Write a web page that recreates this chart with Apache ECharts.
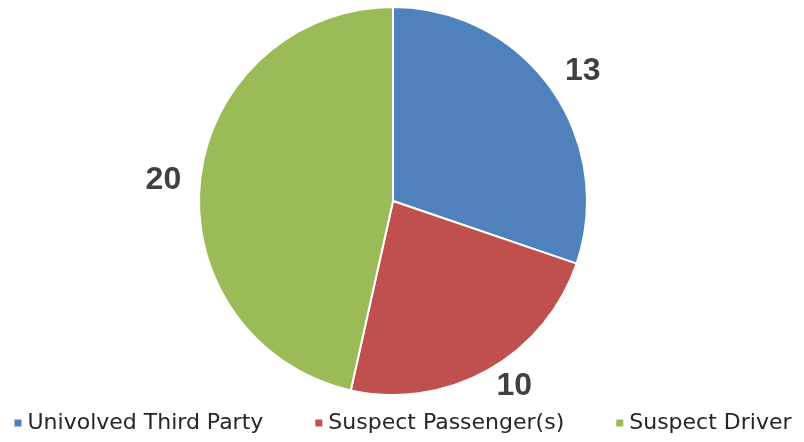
<!DOCTYPE html>
<html><head><meta charset="utf-8">
<script src="https://cdn.jsdelivr.net/npm/echarts@6/dist/echarts.min.js"></script>
<style>html,body{margin:0;padding:0;background:#fff}#c{width:804px;height:442px}</style>
</head><body><div id="c"></div>
<script>
const categories = ['Univolved Third Party', 'Suspect Passenger(s)', 'Suspect Driver'];
const values = [13, 10, 20];
const colors = ['#4F81BD', '#C0504D', '#9BBB59'];

const chart = echarts.init(document.getElementById('c'));
const data = categories.map((n, i) => ({ name: n, value: values[i] }));
const plotBottom = 402; // labels are kept inside the plot area, above the legend
chart.setOption({
  animation: false,
  color: colors,
  legend: {
    bottom: 3,
    left: 'center',
    icon: 'rect',
    itemWidth: 9,
    itemHeight: 9,
    itemGap: 50,
    textStyle: { fontFamily: '"DejaVu Sans", sans-serif', fontSize: 22, color: '#262626' },
    data: categories
  },
  series: [
    {
      type: 'pie',
      center: [393, 201],
      radius: [0, 194],
      startAngle: 90,
      clockwise: true,
      data: data,
      itemStyle: { borderColor: '#fff', borderWidth: 2 },
      label: { show: false },
      labelLine: { show: false }
    },
    {
      type: 'pie',
      silent: true,
      center: [393, 201],
      radius: [194, 264],
      startAngle: 90,
      clockwise: true,
      data: data,
      itemStyle: { color: 'rgba(0,0,0,0)' },
      label: {
        show: true,
        position: 'inside',
        formatter: '{c}',
        offset: [1, 5],
        fontFamily: '"Liberation Sans", Arial, sans-serif',
        fontWeight: 'bold',
        fontSize: 32,
        color: '#404040'
      },
      labelLayout: function (p) {
        const over = p.labelRect.y + p.labelRect.height - plotBottom;
        return over > 0 ? { dy: -over, dx: over * 0.3 } : {};
      },
      labelLine: { show: false }
    }
  ]
});
</script></body></html>
